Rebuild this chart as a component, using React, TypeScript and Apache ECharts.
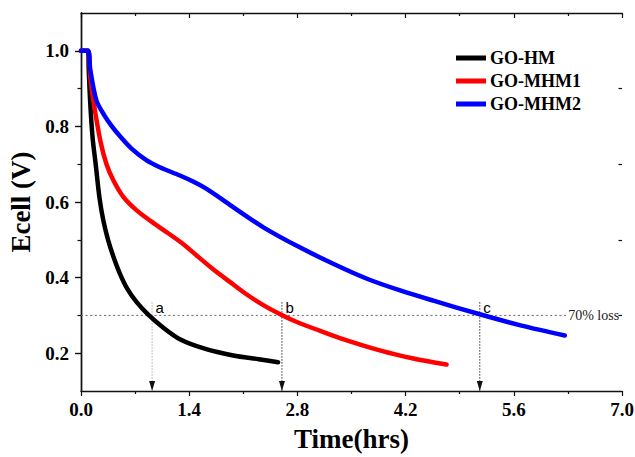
import React, { useEffect, useRef } from "react";
import * as echarts from "echarts";

const seriesNames = ["GO-HM", "GO-MHM1", "GO-MHM2"];
const seriesColors = ["#000000", "#ff0000", "#0000ff"];

const timeHM = [0, 0.09, 0.1, 0.12, 0.15, 0.19, 0.24, 0.29, 0.35, 0.42, 0.5, 0.6, 0.72, 0.87, 1.05, 1.28, 1.6, 1.97, 2.3, 2.55];
const ecellHM = [1, 1, 0.95, 0.86, 0.77, 0.7, 0.61, 0.55, 0.5, 0.455, 0.412, 0.37, 0.335, 0.302, 0.27, 0.237, 0.212, 0.194, 0.184, 0.176];

const timeMHM1 = [0, 0.09, 0.12, 0.16, 0.25, 0.33, 0.42, 0.55, 0.72, 0.9, 1.06, 1.3, 1.5, 1.71, 1.93, 2.14, 2.37, 2.59, 2.8, 3.03, 3.35, 3.89, 4.3, 4.73];
const ecellMHM1 = [1, 1, 0.93, 0.868, 0.762, 0.7, 0.657, 0.613, 0.578, 0.55, 0.527, 0.492, 0.458, 0.422, 0.388, 0.356, 0.326, 0.302, 0.282, 0.264, 0.24, 0.206, 0.186, 0.17];

const timeMHM2 = [0, 0.09, 0.12, 0.2, 0.3, 0.4, 0.5, 0.65, 0.85, 1.02, 1.28, 1.45, 1.63, 1.93, 2.36, 2.83, 3.27, 3.7, 4.13, 4.56, 5.16, 5.7, 6.26];
const ecellMHM2 = [1, 1, 0.95, 0.868, 0.83, 0.8, 0.775, 0.742, 0.71, 0.692, 0.67, 0.654, 0.634, 0.592, 0.533, 0.48, 0.436, 0.397, 0.366, 0.339, 0.303, 0.273, 0.247];

const xMin = 0;
const xMax = 7;
const xInterval = 1.4;
const yMin = 0.1;
const yMax = 1.1;
const yMajor = [0.2, 0.4, 0.6, 0.8, 1.0];
const yMinor = [0.3, 0.5, 0.7, 0.9];

const lossLevel = 0.3;
const lossLineStart = 0;
const lossLineEnd = 6.29;
const lossLabel = "70% loss";

const markerTimes = [0.92, 2.6, 5.16];
const markerLabels = ["a", "b", "c"];
const markerColors = ["#b0b0b0", "#333333", "#333333"];
const markerTop = 0.335;
const markerBottom = 0.1;

const times = [timeHM, timeMHM1, timeMHM2];
const ecells = [ecellHM, ecellMHM1, ecellMHM2];

const SERIF = "'Liberation Serif', 'Times New Roman', serif";
const SANS = "'Liberation Sans', Arial, sans-serif";

export default function App() {
  const ref = useRef<HTMLDivElement>(null);

  useEffect(() => {
    if (!ref.current) return;
    const chart = echarts.init(ref.current, undefined, { renderer: "svg" });

    const axisLine = { show: true, lineStyle: { color: "#111", width: 1.4 } };
    const labelStyle = {
      fontFamily: SERIF,
      fontWeight: "bold" as const,
      fontSize: 19,
      color: "#000",
    };

    const dataSeries = seriesNames.map((name, i) => ({
      name,
      type: "line",
      xAxisIndex: 0,
      yAxisIndex: 0,
      data: times[i].map((t, k) => [t, ecells[i][k]]),
      symbol: "none",
      smooth: 0.3,
      lineStyle: { color: seriesColors[i], width: 4.5, cap: "round", join: "round" },
      itemStyle: { color: seriesColors[i] },
      z: 3,
    }));

    const lossSeries = {
      name: "loss",
      type: "line",
      xAxisIndex: 0,
      yAxisIndex: 0,
      data: [
        [lossLineStart, lossLevel],
        [lossLineEnd, lossLevel],
      ],
      symbol: "none",
      lineStyle: { color: "#666", width: 1, type: [2, 2.6] },
      endLabel: {
        show: true,
        formatter: lossLabel,
        fontFamily: SERIF,
        fontSize: 14,
        color: "#222",
        distance: 1,
      },
      z: 2,
    };

    const markerSeries = markerTimes.map((t, i) => ({
      name: "marker-" + markerLabels[i],
      type: "line",
      xAxisIndex: 0,
      yAxisIndex: 0,
      data: [
        {
          value: [t, markerTop],
          symbol: "circle",
          symbolSize: 1,
          itemStyle: { color: "transparent" },
          label: {
            show: true,
            position: "right",
            distance: 3,
            offset: [0, 5],
            formatter: markerLabels[i],
            fontFamily: SANS,
            fontSize: 15,
            color: "#000",
          },
        },
        {
          value: [t, markerBottom],
          symbol: "triangle",
          symbolSize: [6, 10],
          symbolRotate: 180,
          symbolOffset: [0, -5],
          itemStyle: { color: "#111" },
          label: { show: false },
        },
      ],
      showSymbol: true,
      lineStyle: { color: markerColors[i], width: 1, type: [1.5, 1.5] },
      z: 2,
    }));

    chart.setOption({
      animation: false,
      backgroundColor: "#ffffff",
      grid: { left: 81, right: 13, top: 13, bottom: 66, outerBoundsMode: "none" },
      legend: {
        data: seriesNames,
        orient: "vertical",
        left: 456,
        top: 49,
        padding: 0,
        icon: "rect",
        itemWidth: 30,
        itemHeight: 5,
        itemGap: 5,
        textStyle: {
          fontFamily: SERIF,
          fontWeight: "bold",
          fontSize: 18,
          color: "#000",
          padding: [0, 0, 0, -1],
        },
      },
      xAxis: [
        {
          type: "value",
          position: "bottom",
          min: xMin,
          max: xMax,
          interval: xInterval,
          axisLine,
          axisTick: { show: true, inside: false, length: 5, lineStyle: { color: "#111", width: 1.2 } },
          minorTick: { show: true, splitNumber: 2, length: 3, lineStyle: { color: "#111", width: 1.2 } },
          axisLabel: { ...labelStyle, margin: 9, formatter: (v: number) => v.toFixed(1) },
          splitLine: { show: false },
          minorSplitLine: { show: false },
          name: "Time(hrs)",
          nameLocation: "middle",
          nameGap: 34,
          nameTextStyle: { fontFamily: SERIF, fontWeight: "bold", fontSize: 27, color: "#000" },
        },
        {
          type: "value",
          position: "top",
          min: xMin,
          max: xMax,
          interval: xInterval,
          axisLine,
          axisTick: { show: true, inside: true, length: 5, lineStyle: { color: "#111", width: 1.2 } },
          minorTick: { show: true, splitNumber: 2, length: 3, lineStyle: { color: "#111", width: 1.2 } },
          axisLabel: { show: false },
          splitLine: { show: false },
        },
      ],
      yAxis: [
        {
          type: "value",
          position: "left",
          min: yMin,
          max: yMax,
          interval: 0.1,
          axisLine,
          axisTick: { show: true, inside: false, length: 6, customValues: yMajor, lineStyle: { color: "#111", width: 1.2 } },
          axisLabel: { ...labelStyle, margin: 12, customValues: yMajor, formatter: (v: number) => v.toFixed(1) },
          splitLine: { show: false },
          name: "Ecell (V)",
          nameLocation: "middle",
          nameGap: 43,
          nameRotate: 90,
          nameTextStyle: { fontFamily: SERIF, fontWeight: "bold", fontSize: 27, color: "#000" },
        },
        {
          type: "value",
          position: "right",
          min: yMin,
          max: yMax,
          interval: 0.1,
          axisLine,
          axisTick: { show: true, inside: true, length: 6, customValues: yMajor, lineStyle: { color: "#111", width: 1.2 } },
          axisLabel: { show: false },
          splitLine: { show: false },
        },
        {
          type: "value",
          position: "left",
          min: yMin,
          max: yMax,
          interval: 0.1,
          axisLine: { show: false },
          axisTick: { show: true, inside: false, length: 3.5, customValues: yMinor, lineStyle: { color: "#111", width: 1.2 } },
          axisLabel: { show: false },
          splitLine: { show: false },
        },
        {
          type: "value",
          position: "right",
          min: yMin,
          max: yMax,
          interval: 0.1,
          axisLine: { show: false },
          axisTick: { show: true, inside: true, length: 3.5, customValues: yMinor, lineStyle: { color: "#111", width: 1.2 } },
          axisLabel: { show: false },
          splitLine: { show: false },
        },
      ],
      series: [lossSeries, ...markerSeries, ...dataSeries],
    });

    return () => chart.dispose();
  }, []);

  return (
    <div
      ref={ref}
      style={{ position: "fixed", left: 0, top: 0, width: 635, height: 457, background: "#fff" }}
    />
  );
}
